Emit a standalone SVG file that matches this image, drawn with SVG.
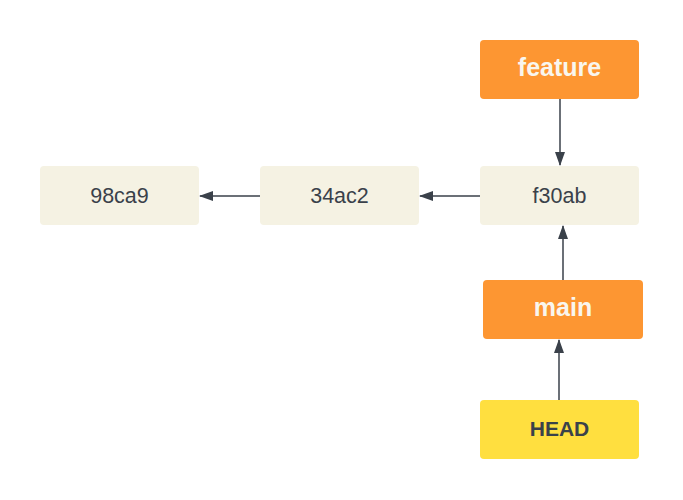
<svg xmlns="http://www.w3.org/2000/svg" width="683" height="500" viewBox="0 0 683 500">
<style>
.commit rect{fill:#F5F2E3}
.branch rect{fill:#FD9632}
.head rect{fill:#FFDF3F}
text{font-family:"Liberation Sans",Arial,sans-serif;text-anchor:middle}
.commit text{font-size:21.5px;fill:#3A414A}
.branch text{font-size:25px;font-weight:bold;fill:#F9F6EE}
.head text{font-size:21px;font-weight:bold;fill:#3A414A}
.conn line{stroke:#3A414A;stroke-width:1.5;fill:none}
</style>
<defs>
<marker id="arr" markerWidth="14" markerHeight="10" refX="13" refY="5" orient="auto" markerUnits="userSpaceOnUse">
<path d="M0,0 L14,5 L0,10 Z" fill="#3A414A"/>
</marker>
</defs>
<rect width="683" height="500" fill="#FFFFFF"/>
<g id="c98ca9" class="commit"><rect x="40" y="166" width="159" height="59" rx="4"/><text x="119.5" y="203">98ca9</text></g>
<g id="c34ac2" class="commit"><rect x="260" y="166" width="159" height="59" rx="4"/><text x="339.5" y="203">34ac2</text></g>
<g id="cf30ab" class="commit"><rect x="480" y="166" width="159" height="59" rx="4"/><text x="559.5" y="203">f30ab</text></g>
<g id="feature" class="branch"><rect x="480" y="40" width="159" height="59" rx="4"/><text x="559.5" y="76">feature</text></g>
<g id="main" class="branch"><rect x="483" y="280" width="160" height="59" rx="4"/><text x="563" y="316">main</text></g>
<g id="head" class="head"><rect x="480" y="400" width="159" height="59" rx="4"/><text x="559.5" y="436">HEAD</text></g>
<g id="connectors" class="conn">
<line x1="260" y1="196" x2="200" y2="196" marker-end="url(#arr)"/>
<line x1="480" y1="196" x2="420" y2="196" marker-end="url(#arr)"/>
<line x1="560" y1="99" x2="560" y2="165" marker-end="url(#arr)"/>
<line x1="563" y1="280" x2="563" y2="226" marker-end="url(#arr)"/>
<line x1="559" y1="400" x2="559" y2="340" marker-end="url(#arr)"/>
</g>
</svg>
